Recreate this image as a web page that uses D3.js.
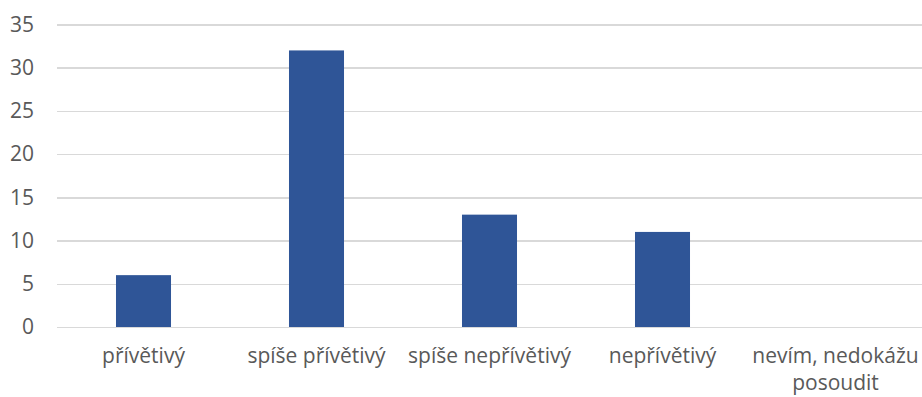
<!DOCTYPE html>
<html lang="cs">
<head>
<meta charset="utf-8">
<script src="https://cdn.jsdelivr.net/npm/d3@7"></script>
<style>
  body { margin: 0; background: #fff; }
  .grid line { stroke: #d9d9d9; stroke-width: 1.5; shape-rendering: crispEdges; }
  .grid path { display: none; }
  text { font-family: "Open Sans", sans-serif; fill: #595959; font-size: 21px; }
</style>
</head>
<body>
<script>
var categories = ["přívětivý", "spíše přívětivý", "spíše nepřívětivý", "nepřívětivý", "nevím, nedokážu posoudit"];
var values = [6, 32, 13, 11, 0];
var yTicks = [0, 5, 10, 15, 20, 25, 30, 35];

var w = 922, h = 397;
var padL = 57, padR = 922, padT = 24.5, padB = 327;

var svg = d3.select("body").append("svg").attr("width", w).attr("height", h);

var x = d3.scaleBand().domain(categories).range([padL, padR]).padding(0);
var y = d3.scaleLinear().domain([0, 35]).range([padB, padT]);

// gridlines
svg.append("g")
  .attr("class", "grid")
  .attr("transform", "translate(" + padL + ",0)")
  .call(d3.axisLeft(y).tickValues(yTicks).tickSize(-(padR - padL)).tickFormat(""));

// y labels
svg.selectAll(".ylab")
  .data(yTicks)
  .enter().append("text")
  .attr("x", 34)
  .attr("y", function(d) { return y(d); })
  .attr("dy", "0.35em")
  .attr("text-anchor", "end")
  .text(function(d) { return d; });

// bars
var bw = x.bandwidth() * 0.318;
svg.selectAll(".bar")
  .data(values)
  .enter().append("rect")
  .attr("x", function(d, i) { return x(categories[i]) + (x.bandwidth() - bw) / 2; })
  .attr("y", function(d) { return y(d); })
  .attr("width", bw)
  .attr("height", function(d) { return y(0) - y(d); })
  .attr("fill", "#2f5597");

// category labels, wrapped like the original
var lines = {"nevím, nedokážu posoudit": ["nevím, nedokážu", "posoudit"]};
categories.forEach(function(c) {
  var parts = lines[c] || [c];
  var t = svg.append("text")
    .attr("text-anchor", "middle")
    .attr("x", x(c) + x.bandwidth() / 2)
    .attr("y", 363);
  parts.forEach(function(p, i) {
    t.append("tspan")
      .attr("x", x(c) + x.bandwidth() / 2)
      .attr("dy", i == 0 ? 0 : 27)
      .text(p);
  });
});
</script>
</body>
</html>
